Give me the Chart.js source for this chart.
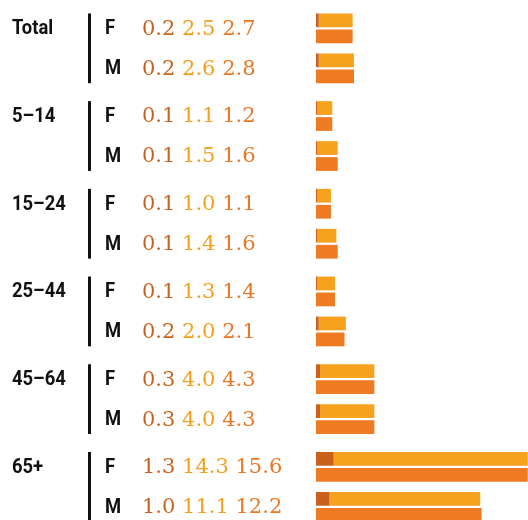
<!DOCTYPE html>
<html>
<head>
<meta charset="utf-8">
<script src="https://cdn.jsdelivr.net/npm/chart.js@4"></script>
<style>
  body { margin: 0; background: #fff; }
  #wrap { width: 528px; height: 520px; }
</style>
</head>
<body>
<div id="wrap"><canvas id="chart" width="528" height="520"></canvas></div>
<script>
// ----------- Data -----------
const groups = ['Total', '5–14', '15–24', '25–44', '45–64', '65+'];
const sexes = ['F', 'M'];
// first part (dark), second part (light), total — per group
const femaleA = [0.2, 0.1, 0.1, 0.1, 0.3, 1.3];
const femaleB = [2.5, 1.1, 1.0, 1.3, 4.0, 14.3];
const femaleTotal = [2.7, 1.2, 1.1, 1.4, 4.3, 15.6];
const maleA = [0.2, 0.1, 0.1, 0.2, 0.3, 1.0];
const maleB = [2.6, 1.5, 1.4, 2.0, 4.0, 11.1];
const maleTotal = [2.8, 1.6, 1.6, 2.1, 4.3, 12.2];

// ----------- Layout -----------
const M_OFFSET = 0.456;   // distance of M row below F row, in group units
const colDark = '#C9601B';
const colLight = '#F7A21F';
const colTotal = '#EE7A22';
const txtDark = '#C8621D';
const txtLight = '#F5A01C';
const txtTotal = '#E97826';

// rows in display order: Total F, Total M, 5–14 F, ...
const rows = [];
groups.forEach((g, i) => {
    rows.push({ group: g, sex: sexes[0], pos: i, a: femaleA[i], b: femaleB[i], t: femaleTotal[i] });
    rows.push({ group: g, sex: sexes[1], pos: i + M_OFFSET, a: maleA[i], b: maleB[i], t: maleTotal[i] });
});

function condensedText(ctx, s, x, y, sx) {
    ctx.save();
    ctx.translate(x, y);
    ctx.scale(sx, 1);
    ctx.fillText(s, 0, 0);
    ctx.restore();
}

const labelsPlugin = {
    id: 'rowLabels',
    afterDraw(chart) {
        const ctx = chart.ctx;
        const y = chart.scales.y;
        const partsMeta = chart.getDatasetMeta(0);
        const totalMeta = chart.getDatasetMeta(2);
        ctx.save();
        ctx.textBaseline = 'middle';
        ctx.textAlign = 'left';
        rows.forEach((r, i) => {
            const py = y.getPixelForValue(r.pos) + 1;
            ctx.font = 'bold 20px Roboto';
            ctx.fillStyle = '#111';
            if (r.sex === 'F') {
                condensedText(ctx, r.group, 12, py, 0.92);
                // vertical rule spanning the group's bars
                const topBar = partsMeta.data[i];
                const botBar = totalMeta.data[i + 1];
                const y0 = topBar.y - topBar.height / 2;
                const y1 = botBar.y + botBar.height / 2;
                ctx.fillRect(88, y0, 3, y1 - y0);
            }
            condensedText(ctx, r.sex, 105, py, 0.92);

            ctx.font = '21px "DejaVu Serif"';
            let x = 142;
            const parts = [[r.a, txtDark], [r.b, txtLight], [r.t, txtTotal]];
            parts.forEach(([v, c]) => {
                const s = v.toFixed(1);
                ctx.fillStyle = c;
                ctx.fillText(s, x, py);
                x += ctx.measureText(s + ' ').width;
            });
        });
        ctx.restore();
    }
};

new Chart(document.getElementById('chart'), {
    type: 'bar',
    data: {
        datasets: [
            {
                label: 'part 1',
                data: rows.map(r => ({ x: r.a, y: r.pos })),
                backgroundColor: colDark,
                stack: 'parts'
            },
            {
                label: 'part 2',
                data: rows.map(r => ({ x: r.b, y: r.pos })),
                backgroundColor: colLight,
                stack: 'parts'
            },
            {
                label: 'total',
                data: rows.map(r => ({ x: r.t, y: r.pos })),
                backgroundColor: colTotal,
                stack: 'total'
            }
        ]
    },
    options: {
        indexAxis: 'y',
        responsive: false,
        animation: false,
        categoryPercentage: 0.8,
        barPercentage: 0.86,
        layout: { padding: { left: 316, right: 0, top: 0, bottom: 0 } },
        plugins: { legend: { display: false }, tooltip: { enabled: false } },
        scales: {
            x: { stacked: true, min: 0, max: 15.62, display: false },
            y: {
                type: 'linear',
                reverse: true,
                offset: false,
                min: -0.323,
                max: 5.606,
                display: false,
                afterBuildTicks: s => { s.ticks = groups.map((g, i) => ({ value: i })); }
            }
        }
    },
    plugins: [labelsPlugin]
});
</script>
</body>
</html>
